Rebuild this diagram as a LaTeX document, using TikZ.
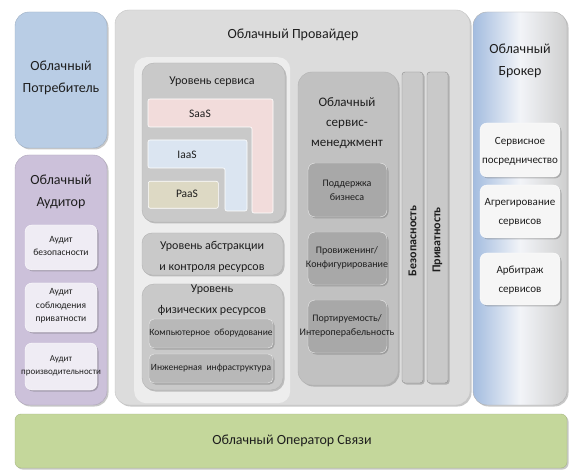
\documentclass[tikz,border=0pt]{standalone}
\usepackage{fontspec}
\setmainfont{Carlito}
\usetikzlibrary{shadows}
\definecolor{txt}{HTML}{1E1E1E}
\definecolor{provfill}{HTML}{DCDCDC}
\definecolor{provedge}{HTML}{C4C4C4}
\definecolor{panelfill}{HTML}{EDEDED}
\definecolor{levfill}{HTML}{C9C9C9}
\definecolor{levedge}{HTML}{B2B2B2}
\definecolor{subgray}{HTML}{A8A8A8}
\definecolor{physsub}{HTML}{B8B8B8}
\definecolor{consfill}{HTML}{B9CDE5}
\definecolor{audfill}{HTML}{CCC1DA}
\definecolor{audsub}{HTML}{EFECF4}
\definecolor{brokblue}{HTML}{A3BCDF}
\definecolor{brokwhite}{HTML}{F2F4F8}
\definecolor{brokgray}{HTML}{CFCFCF}
\definecolor{brosub}{HTML}{F6F6F6}
\definecolor{opfill}{HTML}{C4D79B}
\definecolor{saasfill}{HTML}{F2DCDB}
\definecolor{iaasfill}{HTML}{DBE5F1}
\definecolor{paasfill}{HTML}{DDD9C4}
\tikzset{
  box/.style={rounded corners=#1, inner sep=0pt, outer sep=0pt, anchor=north west,
    drop shadow={shadow xshift=1.5pt, shadow yshift=-1.5pt, opacity=0.3, fill=black!70}},
  box/.default=12pt,
  lbl/.style={text=txt, align=center, inner sep=0pt},
  ttl/.style={lbl, font=\fontsize{14}{22}\selectfont},
  mid/.style={lbl, font=\fontsize{12}{21}\selectfont},
  sml/.style={lbl, font=\fontsize{9.5}{14}\selectfont},
  mgs/.style={lbl, font=\fontsize{10}{14}\selectfont},
}
\begin{document}
\begin{tikzpicture}[x=1pt,y=-1pt]
\useasboundingbox (0,0) rectangle (576,473);
\fill[white] (0,0) rectangle (576,473);

% ---- Consumer
\node[box=14pt, fill=consfill, draw=consfill!85!black, minimum width=92pt, minimum height=136pt] (cons) at (15,12) {};
\node[ttl] (consT) at (61,78) {Облачный\\Потребитель};

% ---- Auditor
\node[box=14pt, fill=audfill, draw=audfill!85!black, minimum width=92pt, minimum height=250pt] (aud) at (15,155) {};
\node[ttl] (audT) at (61,192) {Облачный\\Аудитор};
\node[box=7pt, fill=audsub, draw=white, minimum width=72pt, minimum height=45pt] (aud1) at (25,225) {};
\node[lbl, font=\fontsize{9.5}{13}\selectfont] (aud1T) at (61,246) {Аудит\\безопасности};
\node[box=7pt, fill=audsub, draw=white, minimum width=72pt, minimum height=49pt] (aud2) at (25,283) {};
\node[lbl, font=\fontsize{9.5}{13.5}\selectfont] (aud2T) at (61,306) {Аудит\\соблюдения\\приватности};
\node[box=7pt, fill=audsub, draw=white, minimum width=72pt, minimum height=47pt] (aud3) at (25,343) {};
\node[lbl, font=\fontsize{9}{13.5}\selectfont] (aud3T) at (61,366) {Аудит\\производительности};

% ---- Provider
\node[box=14pt, fill=provfill, draw=provedge, minimum width=355pt, minimum height=395pt] (prov) at (115,10) {};
\node[ttl] (provT) at (293,35) {Облачный Провайдер};
\node[rounded corners=12pt, fill=panelfill, inner sep=0pt, anchor=north west, minimum width=156pt, minimum height=346pt] (panel) at (134,57) {};

% Service level
\node[box=12pt, fill=levfill, draw=levedge, minimum width=143pt, minimum height=159pt] (svc) at (142,63) {};
\node[mid] (svcT) at (212,82) {Уровень сервиса};
\path[fill=saasfill, draw=white, line width=0.6pt, rounded corners=2pt]
  (148,99) -- (273,99) -- (273,213) -- (252,213) -- (252,127) -- (148,127) -- cycle;
\node[lbl, font=\fontsize{11.5}{13}\selectfont] (saasT) at (200,114) {SaaS};
\path[fill=iaasfill, draw=white, line width=0.6pt, rounded corners=2pt]
  (148,140) -- (247,140) -- (247,211) -- (225,211) -- (225,168) -- (148,168) -- cycle;
\node[lbl, font=\fontsize{11.5}{13}\selectfont] (iaasT) at (187,155) {IaaS};
\node[rounded corners=2pt, fill=paasfill, draw=white, line width=0.6pt, inner sep=0pt, anchor=north west, minimum width=70pt, minimum height=27pt] (paas) at (148,181) {};
\node[lbl, font=\fontsize{11.5}{13}\selectfont] (paasT) at (187,194) {PaaS};

% Abstraction level
\node[box=10pt, fill=levfill, draw=levedge, minimum width=141pt, minimum height=42pt] (abs) at (142,233) {};
\node[mid] (absT) at (212,257) {Уровень абстракции\\и контроля ресурсов};

% Physical level
\node[box=12pt, fill=levfill, draw=levedge, minimum width=141pt, minimum height=106pt] (phys) at (142,284) {};
\node[mid] (physT) at (212,300) {Уровень\\физических ресурсов};
\node[box=5pt, fill=physsub, draw=white!85!gray, minimum width=124pt, minimum height=29pt] (comp) at (149,319) {};
\node[sml] (compT) at (211,333) {Компьютерное\ \ оборудование};
\node[box=5pt, fill=physsub, draw=white!85!gray, minimum width=124pt, minimum height=29pt] (eng) at (149,354) {};
\node[sml] (engT) at (211,368) {Инженерная\ \ инфраструктура};

% Service management
\node[box=14pt, fill=levfill!96!black, draw=levedge, minimum width=100pt, minimum height=313pt] (mgmt) at (298,72) {};
\node[lbl, font=\fontsize{13}{20}\selectfont] (mgmtT) at (347,123) {Облачный\\сервис-\\менеджмент};
\node[box=7pt, fill=subgray, draw=white!85!gray, minimum width=79pt, minimum height=54pt] (m1) at (308,163) {};
\node[mgs] (m1T) at (347,190) {Поддержка\\бизнеса};
\node[box=7pt, fill=subgray, draw=white!85!gray, minimum width=79pt, minimum height=53pt] (m2) at (308,232) {};
\node[mgs] (m2T) at (347,258) {Провиженинг/\\Конфигурирование};
\node[box=7pt, fill=subgray, draw=white!85!gray, minimum width=79pt, minimum height=53pt] (m3) at (308,300) {};
\node[mgs] (m3T) at (347,326) {Портируемость/\\Интероперабельность};

% Security & privacy
\node[box=3pt, fill=levfill, draw=levedge!80!black, minimum width=21pt, minimum height=311pt] (sec) at (402,72) {};
\node[lbl, font=\fontsize{12}{13}\selectfont\bfseries, rotate=90] (secT) at (412.5,241) {Безопасность};
\node[box=3pt, fill=levfill, draw=levedge!80!black, minimum width=21pt, minimum height=311pt] (priv) at (427,72) {};
\node[lbl, font=\fontsize{12}{13}\selectfont\bfseries, rotate=90] (privT) at (437.5,240) {Приватность};

% ---- Broker
\node[box=14pt, left color=brokblue, right color=brokgray, middle color=brokwhite, draw=brokgray!85!black, minimum width=94pt, minimum height=393pt] (brok) at (473,12) {};
\node[ttl] (brokT) at (520,61) {Облачный\\Брокер};
\node[box=7pt, fill=brosub, draw=white, minimum width=80pt, minimum height=54pt] (b1) at (480,123) {};
\node[lbl, font=\fontsize{11}{19}\selectfont] (b1T) at (520,151) {Сервисное\\посредничество};
\node[box=7pt, fill=brosub, draw=white, minimum width=80pt, minimum height=53pt] (b2) at (480,185) {};
\node[lbl, font=\fontsize{11}{19}\selectfont] (b2T) at (520,212) {Агрегирование\\сервисов};
\node[box=7pt, fill=brosub, draw=white, minimum width=80pt, minimum height=52pt] (b3) at (480,253) {};
\node[lbl, font=\fontsize{11}{19}\selectfont] (b3T) at (520,280) {Арбитраж\\сервисов};

% ---- Operator
\node[box=6pt, fill=opfill, draw=opfill!85!black, minimum width=552pt, minimum height=54pt] (op) at (15,414) {};
\node[ttl] (opT) at (292,441) {Облачный Оператор Связи};
\end{tikzpicture}
\end{document}
